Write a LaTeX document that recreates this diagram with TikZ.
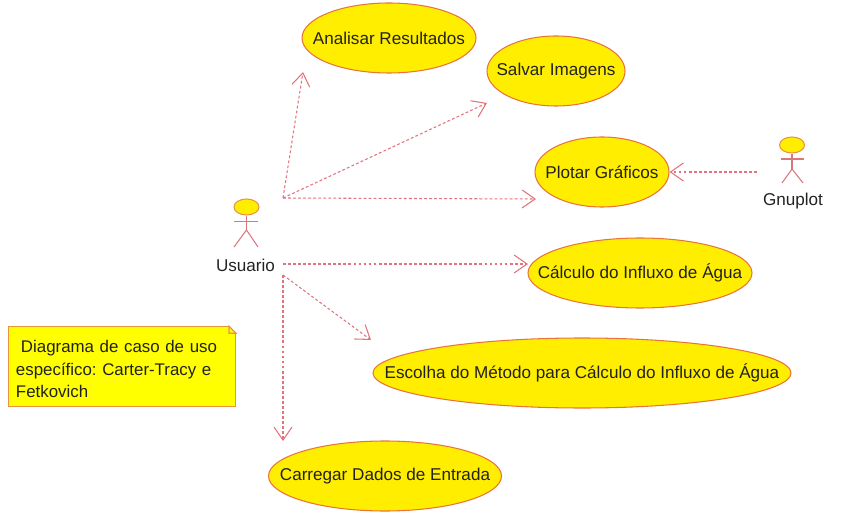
\documentclass[tikz,border=0pt]{standalone}
\usepackage{fontspec}
\setmainfont{Liberation Sans}
\usepackage{xcolor}
\definecolor{usefill}{HTML}{FFEE00}
\definecolor{useline}{HTML}{E8743C}
\definecolor{notefill}{HTML}{FFFF00}
\definecolor{noteline}{HTML}{E8963C}
\definecolor{limbline}{HTML}{D8787C}
\definecolor{flowline}{HTML}{E2727C}
\definecolor{inkdark}{HTML}{222222}
\usepackage{tikz}
\usetikzlibrary{positioning,arrows.meta,calc,shapes.geometric}
\newcommand{\caselabel}[1]{\makebox[0pt]{#1}}

\begin{document}
\begin{tikzpicture}[
  x=0.03cm, y=-0.03cm,
  usecase/.style={
    ellipse, draw=useline, line width=0.9pt, fill=usefill,
    minimum height=2.1cm, inner sep=0pt, text=inkdark,
    font=\fontsize{14.6}{18}\selectfont,
  },
  actorhead/.style={
    ellipse, draw=noteline, line width=0.9pt, fill=usefill,
    minimum width=0.75cm, minimum height=0.48cm, inner sep=0pt,
  },
  actorname/.style={text=inkdark, inner sep=0pt, font=\fontsize{14.6}{18}\selectfont},
  limb/.style={draw=limbline, line width=0.9pt},
  notebox/.style={
    draw=noteline, line width=1pt, fill=notefill, text=inkdark,
    minimum width=6.8cm, minimum height=2.38cm, inner sep=0pt,
    text width=6.36cm, align=left,
    font=\fontsize{14.4}{19}\selectfont\frenchspacing,
  },
  flow/.style={
    draw=flowline, line width=0.9pt, dash pattern=on 2.4pt off 1.9pt,
    -{Straight Barb[length=3.9mm, width=5.4mm, line width=0.9pt]},
  },
]
\useasboundingbox (0,0) rectangle (849,515);

% Use cases
\node[usecase, minimum width=5.22cm] (analisar) at (389,38) {\caselabel{Analisar Resultados}};
\node[usecase, minimum width=4.14cm] (salvar) at (556,71) {\caselabel{Salvar Imagens}};
\node[usecase, minimum width=4.02cm] (plotar) at (602,172) {\caselabel{Plotar Gráficos}};
\node[usecase, minimum width=6.72cm] (calculo) at (640,273) {\caselabel{Cálculo do Influxo de Água}};
\node[usecase, minimum width=12.54cm] (escolha) at (582,373) {\caselabel{Escolha do Método para Cálculo do Influxo de Água}};
\node[usecase, minimum width=6.99cm] (carregar) at (385,476) {\caselabel{Carregar Dados de Entrada}};

% Actor on the left
\node[actorhead] (usuarioHead) at (246.5,207) {};
\coordinate (usuarioHip) at (246.5,230);
\coordinate (usuarioArmL) at (234,221.5);
\coordinate (usuarioArmR) at (258,221.5);
\coordinate (usuarioFootL) at (234,247);
\coordinate (usuarioFootR) at (258,247);
\draw[limb] (usuarioHead) -- (usuarioHip);
\draw[limb] (usuarioArmL) -- (usuarioArmR);
\draw[limb] (usuarioFootL) -- (usuarioHip) -- (usuarioFootR);
\node[actorname] (usuario) at (245.5,265) {Usuario};

% Actor on the right
\node[actorhead] (gnuplotHead) at (792,145) {};
\coordinate (gnuplotHip) at (792,169);
\coordinate (gnuplotArmL) at (781,159);
\coordinate (gnuplotArmR) at (804,159);
\coordinate (gnuplotFootL) at (782,183);
\coordinate (gnuplotFootR) at (803,183);
\draw[limb] (gnuplotHead) -- (gnuplotHip);
\draw[limb] (gnuplotArmL) -- (gnuplotArmR);
\draw[limb] (gnuplotFootL) -- (gnuplotHip) -- (gnuplotFootR);
\node[actorname] (gnuplot) at (793,201) {Gnuplot};

% Free ends of the dashed arrows
\coordinate (fromTop) at (283,198);
\coordinate (fromMid) at (283,264);
\coordinate (fromLow) at (283,275);
\coordinate (fromRight) at (757,172);
\coordinate (toAnalisar) at (303,72);
\coordinate (toSalvar) at (487,103);
\coordinate (toPlotar) at (536,199);
\coordinate (toCalculo) at (528,264);
\coordinate (toEscolha) at (371,340);
\coordinate (toCarregar) at (283,441);

\draw[flow] (fromTop) -- (toAnalisar);
\draw[flow] (fromTop) -- (toSalvar);
\draw[flow] (fromTop) -- (toPlotar);
\draw[flow] (fromMid) -- (toCalculo);
\draw[flow] (fromLow) -- (toEscolha);
\draw[flow] (fromLow) -- (toCarregar);
\draw[flow] (fromRight) -- (plotar.east);

% Note with folded corner
\node[notebox] (note) at (122,366.5) {\rule{0pt}{0.52cm}\hspace*{0.15cm}Diagrama de caso de uso\\específico: Carter-Tracy e\\Fetkovich};
\coordinate (foldA) at ($(note.north east)+(-0.21cm,0)$);
\coordinate (foldB) at ($(note.north east)+(0,-0.21cm)$);
\coordinate (foldC) at ($(note.north east)+(-0.21cm,-0.21cm)$);
\fill[white] (foldA) -- (note.north east) -- (foldB) -- cycle;
\draw[noteline, line width=1pt] (foldA) -- (foldB) -- (foldC) -- cycle;
\end{tikzpicture}
\end{document}
